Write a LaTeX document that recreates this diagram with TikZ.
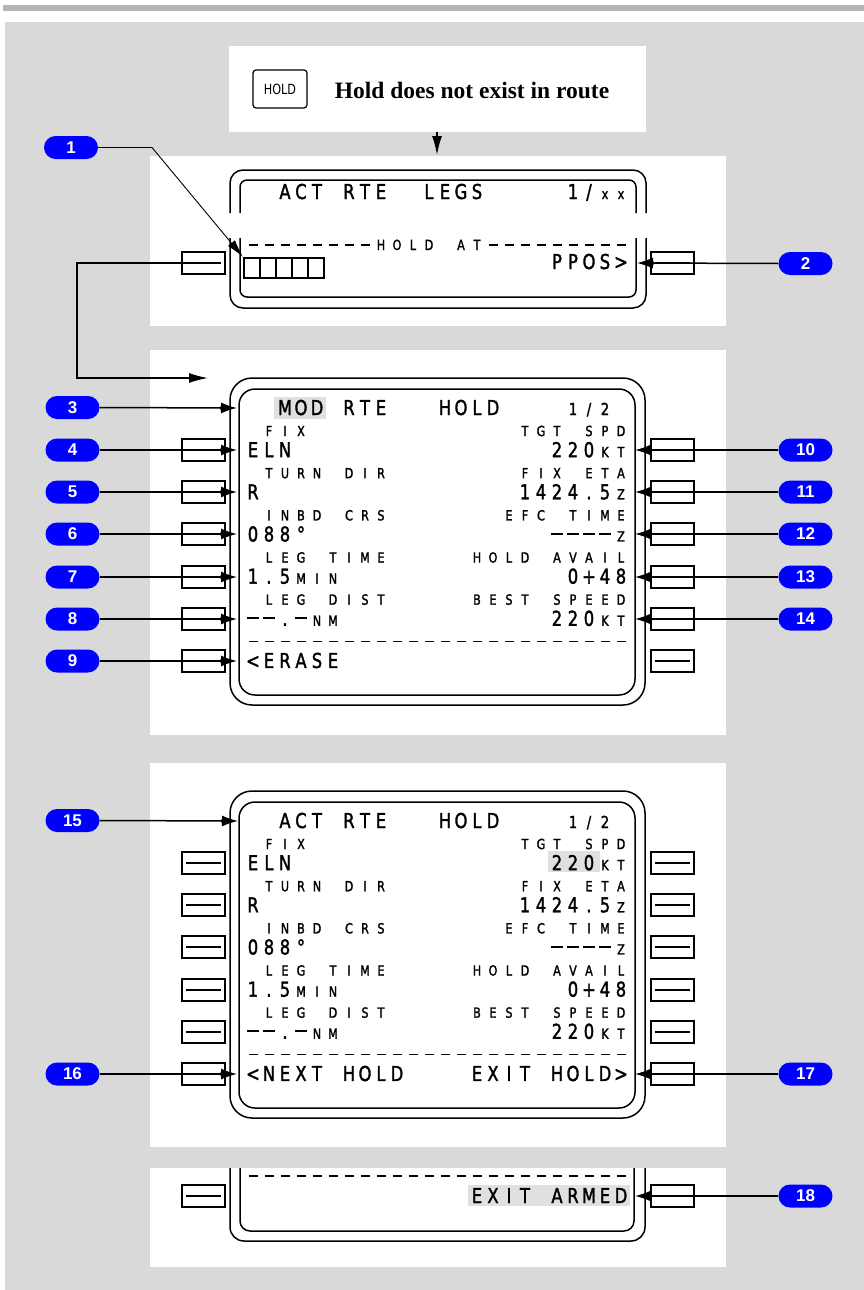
\documentclass[tikz,border=0pt]{standalone}
\usepackage{fontspec}
\usetikzlibrary{arrows.meta}
\newfontfamily\cdufont[FakeStretch=0.8,FakeBold=1.6]{DejaVu Sans}
\newfontfamily\calfont{Liberation Sans}
\newfontfamily\hdrfont{Liberation Serif}
\newfontfamily\keyfont[FakeStretch=0.8]{DejaVu Sans}
\definecolor{bggray}{HTML}{D9D9D9}
\definecolor{bargray}{HTML}{B4B4B4}
\definecolor{hlgray}{HTML}{E0E0E0}
\definecolor{cblue}{HTML}{0000FF}

\newcommand\cdusizeb{\cdufont\fontsize{20.5pt}{22pt}\selectfont}
\newcommand\cdusizes{\cdufont\fontsize{14pt}{16pt}\selectfont}
\newcommand\cdusizem{\cdufont\fontsize{16.5pt}{18pt}\selectfont}
\newcommand\cdudashb{\rule[6.8pt]{12pt}{1.9pt}}
\newcommand\cdudashs{\rule[4.5pt]{9pt}{1.5pt}}
\newcommand\cdudashm{\rule[5.5pt]{10pt}{1.7pt}}

\ExplSyntaxOn
\cs_new_protected:Npn \cdu_cell:nn #1#2
  {
    \makebox[16pt][c]
      {
        \str_if_eq:nnTF {#2} {_} { }
          { \str_if_eq:nnTF {#2} {-} { \use:c { cdudash #1 } } { #2 } }
      }
  }
\NewDocumentCommand \cdu { m m }
  {
    \group_begin:
    \use:c { cdusize #1 }
    \str_map_inline:nn {#2} { \cdu_cell:nn {#1} {##1} }
    \group_end:
  }
\ExplSyntaxOff

\newcommand\holdpage[3]{%
\begin{scope}[yshift=-#2pt]
#3
\draw[frame, rounded corners=22pt] (230,378) rectangle (645,705);
\draw[frame, rounded corners=16pt] (239,389) rectangle (635,695);
\foreach \n/\ky in {2/450,4/492,6/534,8/577,10/619,12/661}{
  \node[lsk] (#1kL\n) at (203.5,\ky) {};
  \node[lsk] (#1kR\n) at (672.5,\ky) {};
}
\node[cdut,anchor=base west] (#1l1) at (245,436.08) {\cdu{s}{_FIX}};
\node[cdut,anchor=base east] (#1r1) at (629,436.08) {\cdu{s}{TGT_SPD}};
\node[cdut,anchor=base west] (#1l2) at (245,457.16) {\cdu{b}{ELN}};
\node[cdut,anchor=base east] (#1r2) at (629,457.16) {\cdu{b}{220}\cdu{s}{KT}};
\node[cdut,anchor=base west] (#1l3) at (245,478.24) {\cdu{s}{_TURN_DIR}};
\node[cdut,anchor=base east] (#1r3) at (629,478.24) {\cdu{s}{FIX_ETA}};
\node[cdut,anchor=base west] (#1l4) at (245,499.32) {\cdu{b}{R}};
\node[cdut,anchor=base east] (#1r4) at (629,499.32) {\cdu{b}{1424.5}\cdu{s}{Z}};
\node[cdut,anchor=base west] (#1l5) at (245,520.4) {\cdu{s}{_INBD_CRS}};
\node[cdut,anchor=base east] (#1r5) at (629,520.4) {\cdu{s}{EFC_TIME}};
\node[cdut,anchor=base west] (#1l6) at (245,541.48) {\cdu{b}{088°}};
\node[cdut,anchor=base east] (#1r6) at (629,541.48) {\cdu{b}{----}\cdu{s}{Z}};
\node[cdut,anchor=base west] (#1l7) at (245,562.56) {\cdu{s}{_LEG_TIME}};
\node[cdut,anchor=base east] (#1r7) at (629,562.56) {\cdu{s}{HOLD_AVAIL}};
\node[cdut,anchor=base west] (#1l8) at (245,583.64) {\cdu{b}{1.5}\cdu{s}{MIN}};
\node[cdut,anchor=base east] (#1r8) at (629,583.64) {\cdu{b}{0+48}};
\node[cdut,anchor=base west] (#1l9) at (245,604.72) {\cdu{s}{_LEG_DIST}};
\node[cdut,anchor=base east] (#1r9) at (629,604.72) {\cdu{s}{BEST_SPEED}};
\node[cdut,anchor=base west] (#1l10) at (245,625.8) {\cdu{b}{--.-}\cdu{s}{NM}};
\node[cdut,anchor=base east] (#1r10) at (629,625.8) {\cdu{b}{220}\cdu{s}{KT}};
\node[cdut,anchor=base west] (#1sep) at (245,646.88) {\cdu{s}{------------------------}};
\end{scope}}

\begin{document}
\begin{tikzpicture}[x=1pt,y=-1pt,
  frame/.style={line width=1.5pt},
  lsk/.style={draw, line width=1.4pt, minimum width=43pt, minimum height=22pt, inner sep=0pt,
    path picture={\draw[line width=1.6pt] ([xshift=4pt]path picture bounding box.west) -- ([xshift=-4pt]path picture bounding box.east);}},
  callout/.style={fill=cblue, rounded corners=11.5pt, minimum width=54pt, minimum height=23pt, inner sep=0pt,
    text=white, font=\calfont\bfseries\fontsize{17pt}{18pt}\selectfont},
  cdut/.style={inner sep=0pt, outer sep=0pt},
  leader/.style={line width=1.5pt, -{Circle[length=7pt,sep=-6pt]Latex[length=16pt,width=11pt]}},
  conn/.style={line width=1.5pt, -{Latex[length=19pt,width=10pt]}},
  thinlead/.style={line width=0.9pt, -{Latex[length=18pt,width=9pt]}},
]
\path[use as bounding box] (0,0) rectangle (864,1290);
% backgrounds
\fill[bargray] (3,5) rectangle (864,11);
\fill[bggray] (5,22) rectangle (864,1290);
\fill[white] (150,156) rectangle (726,326);
\fill[white] (150,350) rectangle (726,735);
\fill[white] (150,763) rectangle (726,1147);
\fill[white] (150,1168) rectangle (726,1267);

% header
\node[fill=white, minimum width=417pt, minimum height=86pt, inner sep=0pt] (hdrbox) at (437.5,89) {};
\node[draw, line width=1.2pt, rounded corners=3pt, minimum width=54pt, minimum height=38pt, inner sep=0pt,
  font=\keyfont\fontsize{14pt}{16pt}\selectfont] (holdkey) at (280,89) {HOLD};
\node[anchor=base, inner sep=0pt, font=\hdrfont\bfseries\fontsize{23.5pt}{26pt}\selectfont] (hdrtext) at (472,98) {Hold does not exist in route};
\coordinate (hdrout) at (437,132);
\coordinate (s1top) at (437,155);
\draw[conn] (hdrout) -- (s1top);

% screen 1
\draw[frame, rounded corners=13pt] (230,213) -- (230,170) -- (646,170) -- (646,213);
\draw[frame, rounded corners=13pt] (230,238) -- (230,308) -- (646,308) -- (646,238);
\draw[frame, rounded corners=7pt] (240,213) -- (240,180) -- (636,180) -- (636,213);
\draw[frame, rounded corners=7pt] (240,238) -- (240,297) -- (636,297) -- (636,238);
\node[lsk] (s1kL) at (203.5,263) {};
\node[lsk] (s1kR) at (672.5,263) {};
\node[cdut,anchor=base west] (s1title) at (245,199) {\cdu{b}{__ACT_RTE__LEGS}};
\node[cdut,anchor=base west] (s1page) at (565,199) {\cdu{b}{1/}\cdu{s}{xx}};
\node[cdut,anchor=base west] (s1hold) at (245,250) {\cdu{s}{--------HOLD_AT---------}};
\node[cdut,anchor=base east] (s1ppos) at (629,269) {\cdu{b}{PPOS>}};
\foreach \i in {0,...,4} \draw[line width=1.3pt] (244+16*\i,258) rectangle ++(16,20);

% screen 2
\fill[hlgray] (274,397) rectangle (326,419);
\holdpage{s2}{0}{}
\node[cdut,anchor=base west] (s2title) at (245,415) {\cdu{b}{__MOD_RTE___HOLD}};
\node[cdut,anchor=base west] (s2page) at (565,415) {\cdu{m}{1/2}};
\node[cdut,anchor=base west] (s2l12) at (245,667.96) {\cdu{b}{<ERASE}};

% screen 3
\holdpage{s3}{413}{\fill[hlgray] (548,438) rectangle (600,459);}
\node[cdut,anchor=base west] (s3title) at (245,828) {\cdu{b}{__ACT_RTE___HOLD}};
\node[cdut,anchor=base west] (s3page) at (565,828) {\cdu{m}{1/2}};
\node[cdut,anchor=base west] (s3l12) at (245,1080.96) {\cdu{b}{<NEXT_HOLD}};
\node[cdut,anchor=base east] (s3r12) at (629,1080.96) {\cdu{b}{EXIT_HOLD>}};

% screen 4
\draw[frame, rounded corners=14pt] (230,1168) -- (230,1241) -- (645,1241) -- (645,1168);
\draw[frame, rounded corners=10pt] (240,1168) -- (240,1231) -- (634,1231) -- (634,1168);
\fill[hlgray] (468,1185) rectangle (630,1206);
\node[cdut,anchor=base west] (s4sep) at (245,1181) {\cdu{s}{------------------------}};
\node[cdut,anchor=base east] (s4r12) at (629,1203) {\cdu{b}{EXIT_ARMED}};
\node[lsk] (s4kL) at (203.5,1196) {};
\node[lsk] (s4kR) at (672.5,1196) {};

% connector screen 1 -> screen 2
\coordinate (bendA) at (77,263);
\coordinate (s2entry) at (208,378);
\draw[conn] (s1kL.center) -- (bendA) |- (s2entry);

% callouts
\node[callout] (c1) at (71,147.5) {1};
\coordinate (b1) at (152,147.5);
\coordinate (t1) at (243,257);
\draw[line width=1.2pt] (c1.east) -- (b1);
\draw[thinlead] (b1) -- (t1);

\node[callout] (c2) at (805.5,263.5) {2};
\coordinate (t2) at (637,263);
\draw[leader] (c2.west) -- (t2);

\node[callout] (c3) at (72.5,407.5) {3};
\coordinate (t3) at (237,408);
\draw[leader] (c3.east) -- (t3);

\foreach \k/\y in {4/450, 5/492, 6/534, 7/577, 8/619, 9/661}{
  \node[callout] (c\k) at (72.5,\y) {\k};
  \coordinate (t\k) at (237,\y);
  \draw[leader] (c\k.east) -- (t\k);
}
\foreach \k/\y in {10/450, 11/492, 12/534, 13/577, 14/619}{
  \node[callout] (c\k) at (805.5,\y) {\k};
  \coordinate (t\k) at (635,\y);
  \draw[leader] (c\k.west) -- (t\k);
}
\node[callout] (c15) at (72.5,820.5) {15};
\coordinate (t15) at (238,821);
\draw[leader] (c15.east) -- (t15);
\node[callout] (c16) at (72.5,1074) {16};
\coordinate (t16) at (237,1074);
\draw[leader] (c16.east) -- (t16);
\node[callout] (c17) at (805.5,1074) {17};
\coordinate (t17) at (635,1074);
\draw[leader] (c17.west) -- (t17);
\node[callout] (c18) at (805.5,1196) {18};
\coordinate (t18) at (635,1196);
\draw[leader] (c18.west) -- (t18);
\end{tikzpicture}
\end{document}
